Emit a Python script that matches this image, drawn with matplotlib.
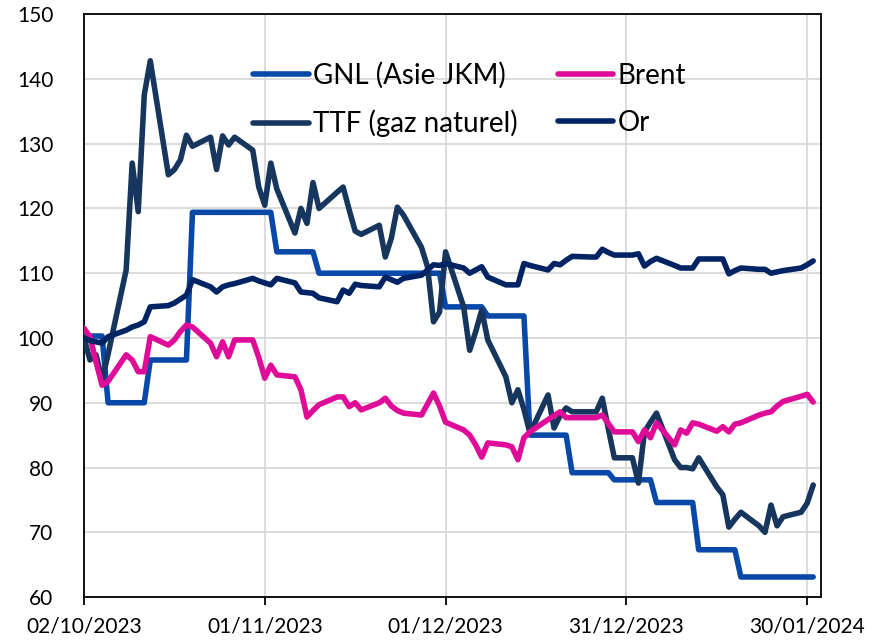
import matplotlib
matplotlib.use("Agg")
import matplotlib.pyplot as plt
import pandas as pd

plt.rcParams['font.family'] = ['Lato', 'DejaVu Sans']

dates = pd.bdate_range("2023-10-02", "2024-01-31")

gnl = [100.3, 100.3, 100.3, 100.3, 90,
       90, 90, 90, 90, 96.6,
       96.6, 96.6, 96.6, 96.6, 119.4,
       119.4, 119.4, 119.4, 119.4, 119.4,
       119.4, 119.4, 119.4, 119.4, 113.3,
       113.3, 113.3, 113.3, 113.3, 110,
       110, 110, 110, 110, 110,
       110, 110, 110, 110, 110,
       110, 110, 110, 110, 104.8,
       104.8, 104.8, 104.8, 104.8, 103.4,
       103.4, 103.4, 103.4, 103.4, 85,
       85, 85, 85, 85, 79.2,
       79.2, 79.2, 79.2, 79.2, 78.1,
       78.1, 78.1, 78.1, 78.1, 74.6,
       74.6, 74.6, 74.6, 74.6, 67.3,
       67.3, 67.3, 67.3, 67.3, 63.1,
       63.1, 63.1, 63.1, 63.1, 63.1,
       63.1, 63.1, 63.1]

ttf = [100, 96.6, 97.4, 93.5, 97.5,
       110.5, 127, 119.5, 137.5, 142.8,
       125.2, 126, 127.5, 131.3, 129.6,
       131, 126, 131.2, 129.8, 131,
       129, 123.3, 120.5, 127, 123,
       116.2, 120, 117.7, 124, 120,
       122.5, 123.3, 119.8, 116.5, 116,
       117.4, 112.5, 115.4, 120.2, 119,
       114, 111, 102.5, 104, 113.3,
       104.8, 98.1, 101, 104.3, 99.7,
       94, 90, 92, 89, 85.3,
       91.2, 86.1, 88, 89.2, 88.6,
       88.6, 88.6, 90.7, 86, 81.5,
       81.5, 77.6, 85.5, 87, 88.4,
       81.2, 80, 80, 79.8, 81.5,
       77, 75.8, 70.8, 72, 73.1,
       71, 70, 74.2, 71, 72.4,
       73.1, 74.5, 77.3]

brent = [101.5, 100.2, 96.3, 92.7, 93.3,
         97.4, 96.6, 94.8, 94.8, 100.2,
         98.9, 99.7, 101, 102, 101.7,
         99.2, 97.1, 99.4, 97.1, 99.7,
         99.7, 97, 93.8, 95.8, 94.3,
         94, 92, 87.8, 88.8, 89.7,
         90.9, 90.9, 89.4, 90, 88.9,
         90, 90.7, 89.5, 88.8, 88.4,
         88.1, 89.8, 91.5, 89.5, 87,
         85.8, 85, 83.5, 81.6, 83.8,
         83.5, 83.2, 81.2, 84.6, 85.5,
         87.4, 88, 88.6, 87.7, 87.7,
         87.7, 87.7, 88.1, 86.8, 85.5,
         85.5, 84, 85.8, 84.6, 86.9,
         83.5, 85.8, 85.3, 86.9, 86.7,
         85.6, 86.3, 85.5, 86.7, 86.9,
         88.1, 88.4, 88.6, 89.5, 90.2,
         91, 91.3, 90.1]

gold = [100, 99.6, 99.4, 99.2, 100.2,
        101.2, 101.7, 102, 102.5, 104.8,
        105, 105.4, 106, 106.6, 109,
        107.9, 107.1, 107.9, 108.2, 108.4,
        109.2, 108.8, 108.5, 108.2, 109.2,
        108.5, 107.1, 107, 106.9, 106.2,
        105.6, 107.4, 106.9, 108.3, 108.1,
        107.9, 109.4, 109, 108.6, 109.2,
        109.7, 110.5, 111.3, 111.2, 111.5,
        110.8, 110, 110.5, 111, 109.4,
        108.2, 108.2, 108.2, 111.5, 111.2,
        110.5, 111.5, 111.3, 112, 112.6,
        112.5, 112.5, 113.7, 113.2, 112.8,
        112.8, 113, 111.1, 111.8, 112.3,
        111.2, 110.8, 110.8, 110.8, 112.2,
        112.2, 112.2, 109.9, 110.4, 110.8,
        110.6, 110.6, 110, 110.2, 110.4,
        110.8, 111.3, 111.9]

labels = ["GNL (Asie JKM)", "TTF (gaz naturel)", "Brent", "Or"]
colors = ["#0848A8", "#17365D", "#DE0C98", "#002463"]
series = [gnl, ttf, brent, gold]

tick_dates = pd.to_datetime(["2023-10-02", "2023-11-01", "2023-12-01",
                             "2023-12-31", "2024-01-30"])
yticks = [60, 70, 80, 90, 100, 110, 120, 130, 140, 150]

fig = plt.figure(figsize=(8.84, 6.42), dpi=100)
ax = fig.add_axes([0.095, 0.070, 0.834, 0.908])

lines = {}
for lab, col, s in zip(labels, colors, series):
    ln, = ax.plot(dates, s, color=col, lw=4.0, solid_joinstyle='round',
                  solid_capstyle='round', label=lab, zorder=3)
    lines[lab] = ln

ax.set_xlim(pd.Timestamp("2023-10-02"), pd.Timestamp("2024-02-01 08:00"))
ax.set_ylim(60, 150)
ax.set_yticks(yticks)
ax.set_xticks(tick_dates)
ax.set_xticklabels([d.strftime("%d/%m/%Y") for d in tick_dates])

ax.grid(True, color="#D9D9D9", lw=1.3, zorder=0)
ax.set_axisbelow(True)
for sp in ax.spines.values():
    sp.set_color("black")
    sp.set_linewidth(1.3)
ax.tick_params(axis='y', length=0, labelsize=15, pad=22)
ax.tick_params(axis='x', length=6, width=1.3, direction='out', labelsize=15, pad=8)

order = ["GNL (Asie JKM)", "TTF (gaz naturel)", "Brent", "Or"]
leg = fig.legend([lines[k] for k in order], order, ncol=2, frameon=False,
                 fontsize=20, handlelength=2.0, handletextpad=0.15,
                 columnspacing=1.45, labelspacing=0.75, borderpad=0,
                 borderaxespad=0,
                 loc='upper left', bbox_to_anchor=(253 / 884, 1 - 62 / 642))

fig.savefig("out.png", dpi=100)
